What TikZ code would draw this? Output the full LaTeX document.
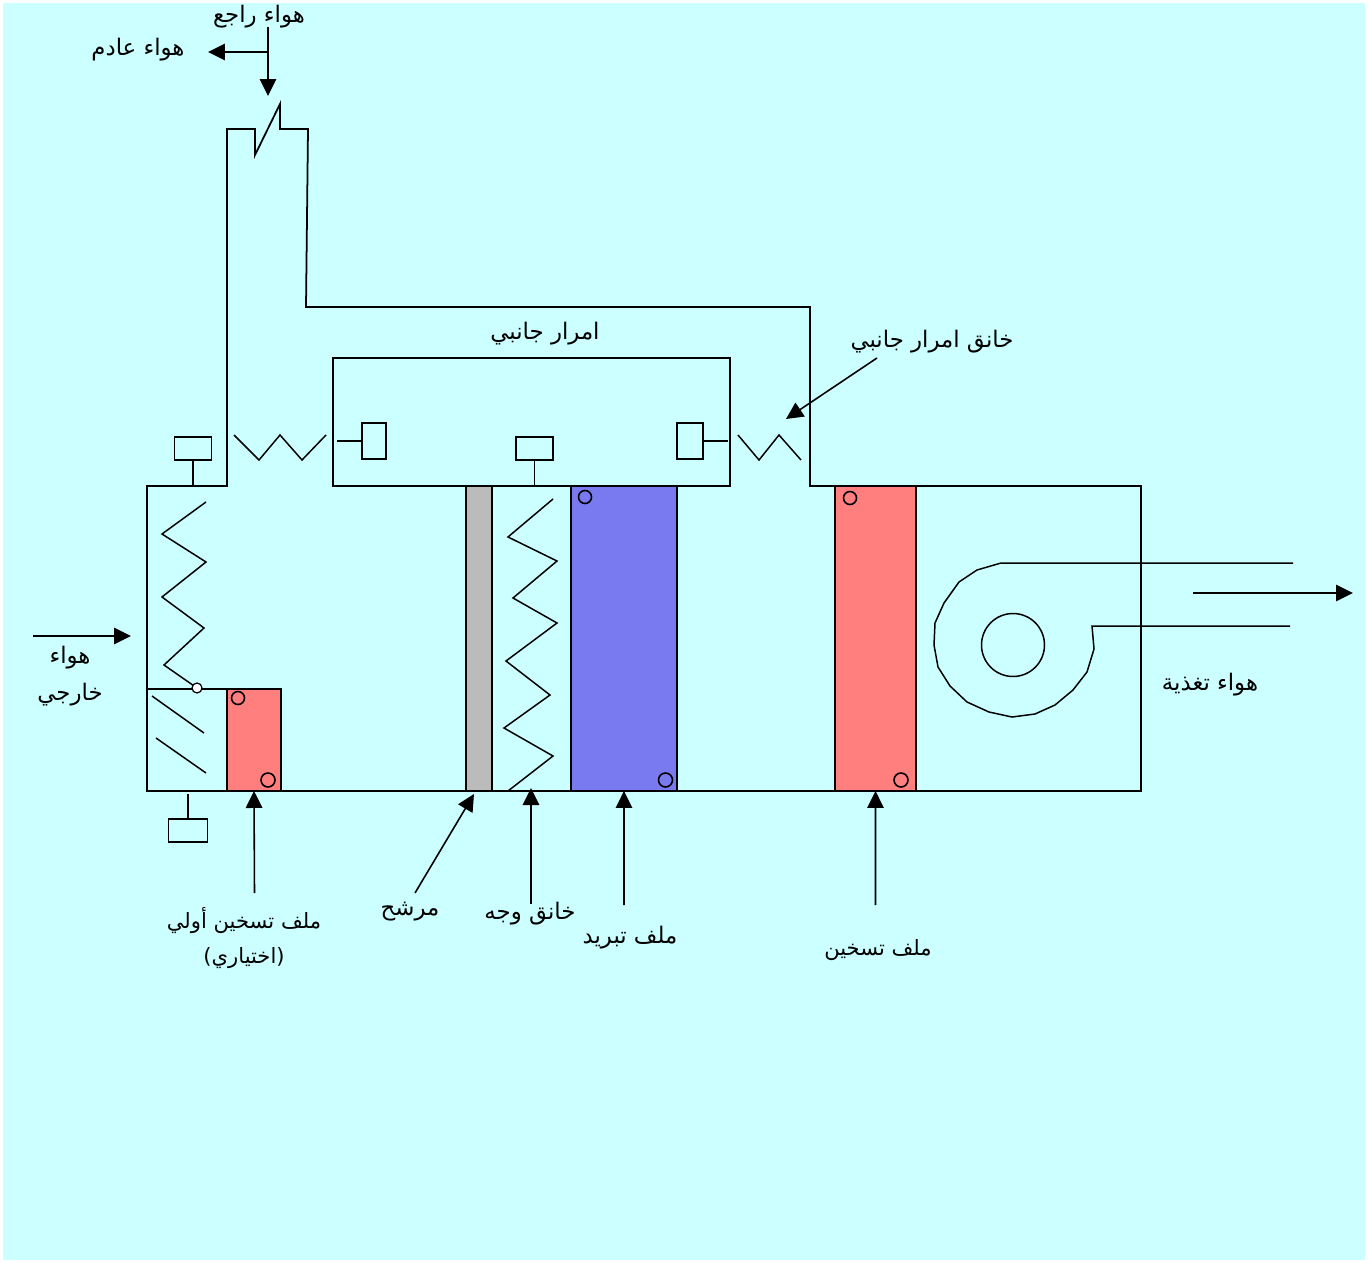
\documentclass[tikz,border=0pt]{standalone}
\usepackage{fontspec}
\usetikzlibrary{arrows.meta}
\newfontfamily\arabicfont[Script=Arabic]{DejaVu Sans}
\TeXXeTstate=1
\newcommand{\rtltext}[1]{\beginR #1\endR}
\definecolor{bgcyan}{HTML}{CCFFFF}
\definecolor{coilred}{HTML}{FF7F7F}
\definecolor{coilblue}{HTML}{7A7AF0}
\definecolor{filtergray}{HTML}{BBBBBB}

\begin{document}
\begin{tikzpicture}[
    x=0.02cm, y=-0.02cm,
    wall/.style={draw=black, line width=1pt, line join=miter},
    thinline/.style={draw=black, line width=0.85pt},
    coil/.style={draw=black, line width=1.1pt, anchor=north west, inner sep=0pt, outer sep=0pt},
    actbox/.style={draw=black, line width=1pt, fill=bgcyan, anchor=north west, inner sep=0pt, outer sep=0pt},
    port/.style={draw=black, line width=0.9pt, circle, inner sep=0pt, outer sep=0pt, minimum size=0.26cm},
    arrow/.style={-{Triangle[length=0.34cm, width=0.33cm]}, draw=black, line width=0.9pt},
    lbl/.style={font=\arabicfont\fontsize{13}{15}\selectfont, inner sep=0pt, align=center},
    lblnarrow/.style={font=\arabicfont\fontsize{12}{15}\selectfont, inner sep=0pt, align=center}
]
\useasboundingbox (0,0) rectangle (1369,1261);
\fill[bgcyan] (3,3) rectangle (1365,1260);

% casing and return duct
\draw[wall] (147,486) -- (227,486) -- (227,129) -- (255,129) -- (255,155) -- (280,104) -- (280,129)
    -- (308,129) -- (306,307) -- (810,307) -- (810,486) -- (1141,486) -- (1141,791) -- (147,791) -- cycle;

% bypass
\draw[wall] (333,486) -- (333,358) -- (730,358) -- (730,486) -- cycle;

% coils and filter
\node[coil, fill=coilred, minimum width=1.08cm, minimum height=2.04cm] (preheat) at (227,689) {};
\node[coil, fill=filtergray, minimum width=0.52cm, minimum height=6.1cm] (filter) at (466,486) {};
\node[coil, fill=coilblue, minimum width=2.12cm, minimum height=6.1cm] (cooling) at (571,486) {};
\node[coil, fill=coilred, minimum width=1.62cm, minimum height=6.1cm] (reheat) at (835,486) {};

% coil ports
\node[port] (pa) at (238,698) {};
\node[port, minimum size=0.28cm] (pb) at (268,780) {};
\node[port] (pc) at (585,497) {};
\node[port, minimum size=0.28cm] (pd) at (665.5,780) {};
\node[port] (pe) at (850,498) {};
\node[port, minimum size=0.28cm] (pf) at (901,780) {};

% actuators
\node[actbox, minimum width=0.74cm, minimum height=0.46cm] (acta) at (174.5,437) {};
\draw[wall] (acta.south) -- ++(0,26);
\node[actbox, minimum width=0.74cm, minimum height=0.46cm] (actb) at (516,437) {};
\draw[wall] (actb.south) -- ++(0,26);
\node[actbox, minimum width=0.78cm, minimum height=0.46cm] (actc) at (168.5,819) {};
\draw[wall] (actc.north) -- ++(0,-25);
\node[actbox, minimum width=0.48cm, minimum height=0.72cm] (actd) at (362,423) {};
\draw[wall] (actd.west) -- ++(-25,0);
\node[actbox, minimum width=0.52cm, minimum height=0.72cm] (acte) at (677,423) {};
\draw[wall] (acte.east) -- ++(25,0);

% dampers
\draw[thinline] (206,502) -- (162,534) -- (206,562) -- (162,597) -- (204,628) -- (164,665) -- (197,688);
\draw[thinline] (553,499) -- (508,537) -- (557,561) -- (513,598) -- (557,623) -- (506,661) -- (550,695)
    -- (504,728) -- (553,756) -- (508,791);
\draw[thinline] (234,435) -- (259,460) -- (280,435) -- (302,460) -- (326,435);
\draw[thinline] (738,435) -- (759,460) -- (779,435) -- (801,460);
\draw[thinline] (152,696) -- (204,733);
\draw[thinline] (156,738) -- (206,773);
\draw[thinline] (147,689) -- (227,689);
\node[draw=black, line width=0.7pt, fill=white, circle, inner sep=0pt, minimum size=0.2cm] (hinge) at (197,688) {};

% fan
\draw[thinline] (1293,563) -- (1001,563) -- (977,570) -- (959,582) -- (944,603) -- (935,623) -- (934,645)
    -- (938,667) -- (950,686) -- (967,702) -- (989,712) -- (1012,717) -- (1035,714) -- (1055,705)
    -- (1073,690) -- (1087,672) -- (1094,649) -- (1092,626) -- (1290,626);
\node[draw=black, line width=0.85pt, circle, inner sep=0pt, minimum size=1.26cm] (fanhub) at (1013,645) {};

% labels
\node[lbl] (lblreturn) at (259,17) {\rtltext{هواء راجع}};
\node[lbl] (lblexhaust) at (138,50) {\rtltext{هواء عادم}};
\node[lbl] (lbloutside) at (70,676) {\rtltext{هواء}\\[6pt]\rtltext{خارجي}};
\node[lbl] (lblbypass) at (545,334) {\rtltext{امرار جانبي}};
\node[lbl] (lblbydamper) at (932,342) {\rtltext{خانق امرار جانبي}};
\node[lbl] (lblsupply) at (1210,685) {\rtltext{هواء تغذية}};
\node[lblnarrow] (lblpreheat) at (244,938) {\rtltext{ملف تسخين أولي}\\[5pt]\rtltext{(اختياري)}};
\node[lbl] (lblfilter) at (410,912) {\rtltext{مرشح}};
\node[lbl] (lblface) at (530,914) {\rtltext{خانق وجه}};
\node[lbl] (lblcooling) at (630,938) {\rtltext{ملف تبريد}};
\node[lblnarrow] (lblreheat) at (878,950) {\rtltext{ملف تسخين}};

% free ends of arrows
\coordinate (cret) at (268,27);
\coordinate (cretb) at (268,96);
\coordinate (cexh) at (268,52);
\coordinate (cexhb) at (208,52);
\coordinate (cout) at (33,636);
\coordinate (coutb) at (131,636);
\coordinate (csup) at (1193,593);
\coordinate (csupb) at (1353,593);
\coordinate (cby) at (877,358);
\coordinate (cbyb) at (786,419);
\coordinate (cpre) at (254.5,893);
\coordinate (cfil) at (415,893);
\coordinate (cfilb) at (474,794);
\coordinate (cface) at (531,904);
\coordinate (cfaceb) at (531,788);
\coordinate (ccool) at (624,905);
\coordinate (cheat) at (875.5,905);

% arrows
\draw[arrow] (cret) -- (cretb);
\draw[arrow] (cexh) -- (cexhb);
\draw[arrow] (cout) -- (coutb);
\draw[arrow] (csup) -- (csupb);
\draw[arrow] (cby) -- (cbyb);
\draw[arrow] (cpre) -- (preheat.south);
\draw[arrow] (cfil) -- (cfilb);
\draw[arrow] (cface) -- (cfaceb);
\draw[arrow] (ccool) -- (cooling.south);
\draw[arrow] (cheat) -- (reheat.south);

\end{tikzpicture}
\end{document}
